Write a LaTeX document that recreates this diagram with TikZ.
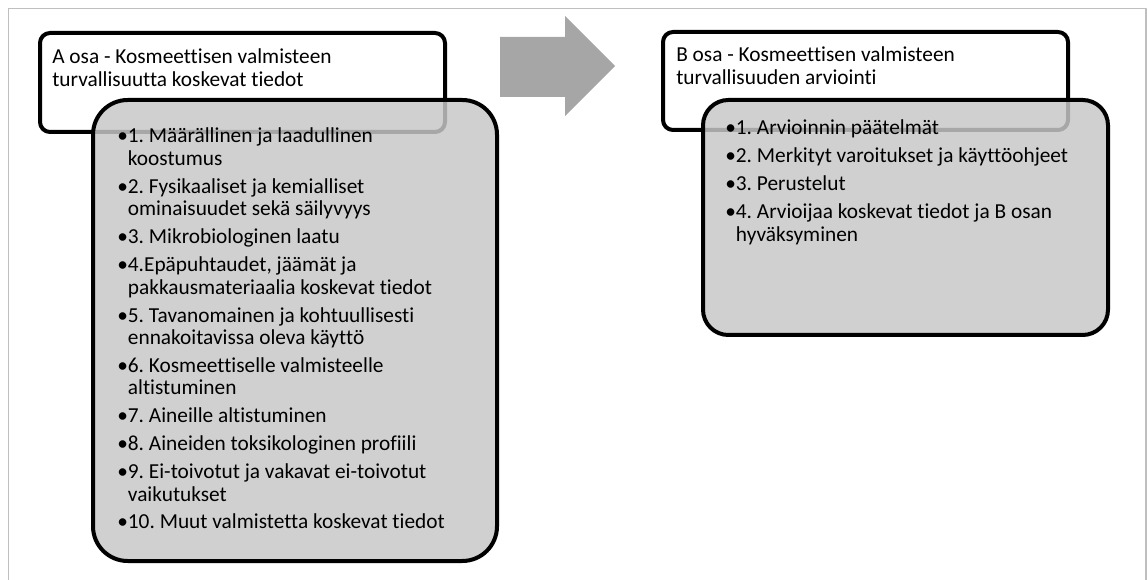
\documentclass[tikz,border=0pt]{standalone}
\usepackage{fontspec}
\setmainfont{Carlito}[Ligatures={NoCommon}]
\definecolor{osaharmaa}{HTML}{C7C7C7}
\definecolor{nuoliharmaa}{HTML}{A6A6A6}
\definecolor{kehys}{HTML}{BFBFBF}
\frenchspacing
\newcommand\kohta{\makebox[8pt][l]{\textbullet}}
\newcommand\lista[1]{\begin{tabular}[t]{@{}l@{}l@{}}#1\end{tabular}}

\begin{document}
\begin{tikzpicture}[x=0.75pt,y=-0.75pt,line join=round,
  otsikko/.style={draw=black,line width=3pt,fill=white,rounded corners=7.5pt},
  sisalto/.style={draw=black,line width=3pt,fill=osaharmaa,fill opacity=0.84},
  teksti/.style={anchor=base west,inner sep=0pt,font=\fontsize{16}{16.9}\selectfont}]
\useasboundingbox (0,0) rectangle (1148,580);
% outer frame, open at the bottom
\draw[kehys,line width=1.2pt] (8.5,580) -- (8.5,8.5) -- (1146,8.5) -- (1146,580);
% part A: header box and list box
\draw[otsikko] (40,33) rectangle (445,132);
\draw[sisalto,rounded corners=26pt] (93,100) rectangle (497,561);
\node[teksti] (otsikkoA) at (52,64) {\lista{A osa - Kosmeettisen valmisteen\\turvallisuutta koskevat tiedot}};
\node[teksti] (listaA) at (117,143) {\lista{%
\kohta&1. Määrällinen ja laadullinen\\&koostumus\\[4pt]
\kohta&2. Fysikaaliset ja kemialliset\\&ominaisuudet sekä säilyvyys\\[4pt]
\kohta&3. Mikrobiologinen laatu\\[4pt]
\kohta&4.Epäpuhtaudet, jäämät ja\\&pakkausmateriaalia koskevat tiedot\\[4pt]
\kohta&5. Tavanomainen ja kohtuullisesti\\&ennakoitavissa oleva käyttö\\[4pt]
\kohta&6. Kosmeettiselle valmisteelle\\&altistuminen\\[4pt]
\kohta&7. Aineille altistuminen\\[4pt]
\kohta&8. Aineiden toksikologinen profiili\\[4pt]
\kohta&9. Ei-toivotut ja vakavat ei-toivotut\\&vaikutukset\\[4pt]
\kohta&10. Muut valmistetta koskevat tiedot}};
% block arrow from A to B
\fill[nuoliharmaa] (500,37) -- (565,37) -- (565,16) -- (615,66) -- (565,116) -- (565,97) -- (500,97) -- cycle;
% part B: header box and list box
\draw[otsikko] (663,32) rectangle (1068,130);
\draw[sisalto,rounded corners=19pt] (703,100) rectangle (1108,335);
\node[teksti] (otsikkoB) at (676,62) {\lista{B osa - Kosmeettisen valmisteen\\turvallisuuden arviointi}};
\node[teksti] (listaB) at (725,135) {\lista{%
\kohta&1. Arvioinnin päätelmät\\[4pt]
\kohta&2. Merkityt varoitukset ja käyttöohjeet\\[4pt]
\kohta&3. Perustelut\\[4pt]
\kohta&4. Arvioijaa koskevat tiedot ja B osan\\&hyväksyminen}};
\end{tikzpicture}
\end{document}
